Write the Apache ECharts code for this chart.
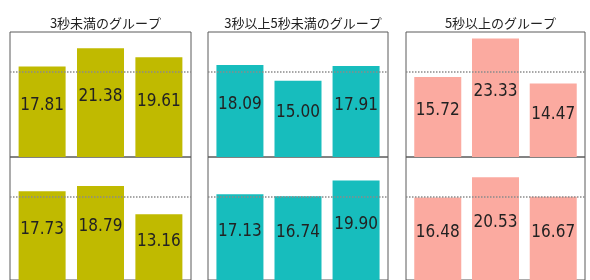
<!DOCTYPE html>
<html lang="ja">
<head>
	<meta charset="UTF-8">
	<title>グループ別</title>
	<style>
		html, body { margin: 0; padding: 0; background: #fff; }
	</style>
</head>
<body>
	<div id="main" style="width:590px;height:280px;"></div>
</body>
<script src="https://cdn.jsdelivr.net/npm/echarts@6/dist/echarts.min.js"></script>
<script type="text/javascript">
// グループ名
var groups = ['3秒未満のグループ', '3秒以上5秒未満のグループ', '5秒以上のグループ'];
// 各パネルのバー（左→右）
var upperRow = [
    [17.81, 21.38, 19.61],
    [18.09, 15.00, 17.91],
    [15.72, 23.33, 14.47]
];
var lowerRow = [
    [17.73, 18.79, 13.16],
    [17.13, 16.74, 19.90],
    [16.48, 20.53, 16.67]
];
var refLine = 16.7;   // 点線の基準値
var colors = ['#c0ba00', '#17bdbd', '#fbaaa0'];

// パネルの位置
var panelLeft = [10, 208, 406];
var panelWidth = [181, 180, 179];
var rowTop = [32, 157];
var rowHeight = 125;

var grid = [], xAxis = [], yAxis = [], series = [], title = [];

for (var c = 0; c < 3; c++) {
    title.push({
        text: groups[c],
        left: panelLeft[c] + panelWidth[c] / 2,
        top: 12,
        textAlign: 'center',
        textStyle: {
            fontFamily: 'Noto Sans CJK JP',
            fontSize: 13,
            fontWeight: 'normal',
            color: '#222'
        }
    });
}

var rows = [upperRow, lowerRow];
for (var r = 0; r < 2; r++) {
    for (var c = 0; c < 3; c++) {
        var idx = r * 3 + c;
        grid.push({
            left: panelLeft[c],
            width: panelWidth[c],
            top: rowTop[r],
            height: rowHeight,
            show: true,
            borderColor: '#5a5a5a',
            borderWidth: 1,
            backgroundColor: 'transparent'
        });
        xAxis.push({
            type: 'value', gridIndex: idx,
            min: -0.55, max: 2.55,
            show: false
        });
        yAxis.push({
            type: 'value', gridIndex: idx,
            min: 0, max: 24.6,
            show: false
        });
        var vals = rows[r][c];
        var data = [];
        for (var i = 0; i < vals.length; i++) {
            data.push([i, vals[i]]);
        }
        series.push({
            type: 'bar',
            xAxisIndex: idx, yAxisIndex: idx,
            barWidth: 47,
            itemStyle: { color: colors[c] },
            label: {
                show: true,
                position: 'inside',
                offset: [0, -6],
                fontFamily: "'DejaVu Sans Condensed', 'DejaVu Sans', sans-serif",
                fontSize: 17,
                color: '#222',
                formatter: function (p) { return p.value[1].toFixed(2); }
            },
            markLine: {
                silent: true,
                symbol: 'none',
                label: { show: false },
                lineStyle: { color: '#8a8a8a', type: 'dotted', width: 1.5 },
                data: [{ yAxis: refLine }],
                z: 5
            },
            data: data
        });
    }
}

var option = {
    animation: false,
    title: title,
    grid: grid,
    xAxis: xAxis,
    yAxis: yAxis,
    series: series
};

var myChart = echarts.init(document.getElementById('main'));
myChart.setOption(option);
</script>
</html>
